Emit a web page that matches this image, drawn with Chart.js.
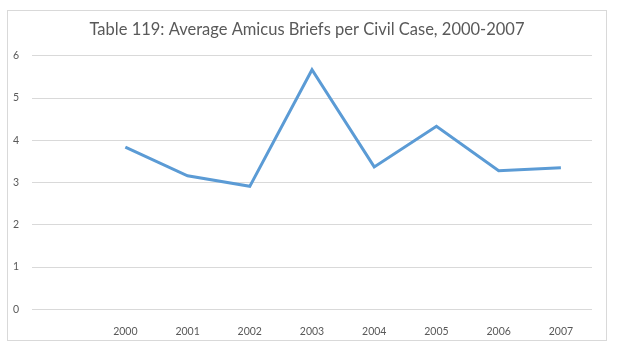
<!DOCTYPE html>
<html>
<head>
<meta charset="utf-8">
<script src="https://cdn.jsdelivr.net/npm/chart.js@4"></script>
<style>
  body { margin: 0; background: #fff; }
  #box {
    position: absolute; left: 7px; top: 10px;
    width: 598px; height: 329px;
    border: 1px solid #d9d9d9;
  }
</style>
</head>
<body>
<div id="box"><canvas id="chart" width="598" height="329"></canvas></div>
<script>
// Years on the x axis (first slot is left empty, as in the original)
const years = ['', '2000', '2001', '2002', '2003', '2004', '2005', '2006', '2007'];

// Average amicus briefs per civil case
const avgBriefs = [null, 3.84, 3.16, 2.91, 5.67, 3.37, 4.33, 3.28, 3.35];

// Y axis range
const yMin = 0;
const yMax = 6;
const yStep = 1;

const textColor = '#595959';

new Chart(document.getElementById('chart'), {
  type: 'line',
  data: {
    labels: years,
    datasets: [
      {
        label: 'Average Amicus Briefs',
        data: avgBriefs,
        borderColor: '#5b9bd5',
        borderWidth: 3,
        pointRadius: 0,
        tension: 0,
        fill: false,
        yAxisID: 'y',
      },
    ],
  },
  options: {
    responsive: false,
    animation: false,
    layout: { padding: 0 },
    plugins: {
      legend: { display: false },
      tooltip: { enabled: false },
      title: {
        display: true,
        text: 'Table 119: Average Amicus Briefs per Civil Case, 2000-2007',
        color: textColor,
        font: { family: 'Lato', size: 16.5, weight: 'normal' },
        padding: { top: 9, bottom: 16 },
      },
    },
    scales: {
      x: {
        offset: true,
        grid: { display: false },
        border: { display: false },
        ticks: {
          color: textColor,
          font: { family: 'Lato', size: 10.5 },
          padding: 8,
          maxRotation: 0,
          autoSkip: false,
        },
        afterFit: (scale) => { scale.height = 30.7; },
      },
      y: {
        min: yMin,
        max: yMax,
        grid: { color: '#d9d9d9', lineWidth: 1, drawTicks: false },
        border: { display: false },
        ticks: {
          stepSize: yStep,
          color: textColor,
          font: { family: 'Lato', size: 10.5 },
          padding: 13,
        },
        afterFit: (scale) => { scale.width = 24; },
      },
      // empty spacer on the right so the title stays centred on the whole box
      yRight: {
        position: 'right',
        min: yMin,
        max: yMax,
        grid: { display: false },
        border: { display: false },
        ticks: { display: false },
        afterFit: (scale) => { scale.width = 14; },
      },
    },
  },
});
</script>
</body>
</html>
